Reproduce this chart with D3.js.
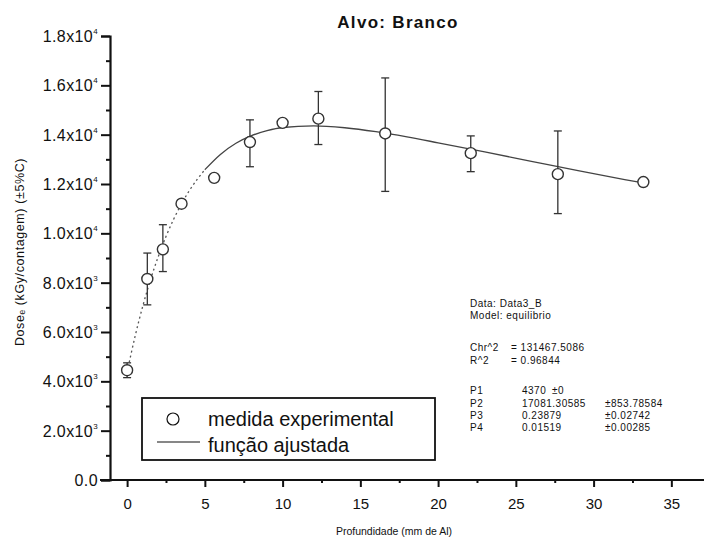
<!DOCTYPE html>
<html><head><meta charset="utf-8">
<script src="https://cdn.jsdelivr.net/npm/d3@7"></script>
<style>
body{margin:0;background:#fff;}
text{font-family:"Liberation Sans",Arial,sans-serif;fill:#111;}
</style></head>
<body><svg id="c" width="704" height="540"></svg>
<script>
// measured points
const depth = [0, 1.3, 2.3, 3.5, 5.6, 7.9, 10.0, 12.3, 16.6, 22.1, 27.7, 33.2];
const dose  = [4450, 8150, 9350, 11200, 12250, 13700, 14480, 14650, 14050, 13250, 12400, 12080];
const errLo = [4150, 7100, 8450, 11050, 12150, 12700, 14380, 13600, 11700, 12500, 10800, 12000];
const errHi = [4750, 9200, 10350, 11350, 12350, 14600, 14580, 15750, 16300, 13950, 14150, 12160];
// fitted curve
const fitX = [0, 0.5, 1, 1.5, 2, 2.5, 3, 4, 5, 6, 7, 8, 9, 10, 12, 14, 16, 18, 20, 23, 26, 29, 32, 33.2];
const fitY = [4370, 5790, 7030, 8110, 9050, 9870, 10580, 11730, 12580, 13200, 13650, 13960, 14160, 14290, 14360, 14280, 14120, 13910, 13670, 13300, 12920, 12540, 12180, 12040];
const yTicks = [0, 2000, 4000, 6000, 8000, 10000, 12000, 14000, 16000, 18000];
const yTickLabels = [["0.0",""],["2.0x10","3"],["4.0x10","3"],["6.0x10","3"],["8.0x10","3"],["1.0x10","4"],["1.2x10","4"],["1.4x10","4"],["1.6x10","4"],["1.8x10","4"]];
const xTicks = [0, 5, 10, 15, 20, 25, 30, 35];
const fitInfo = [
  ["Data: Data3_B"], ["Model: equilibrio"],
  ["Chr^2", "= 131467.5086"], ["R^2", "= 0.96844"],
  ["P1", "4370", "±0"], ["P2", "17081.30585", "±853.78584"],
  ["P3", "0.23879", "±0.02742"], ["P4", "0.01519", "±0.00285"]
];

const svg = d3.select("#c");
const x = d3.scaleLinear().domain([-1.1, 37.1]).range([110, 704]);
const y = d3.scaleLinear().domain([0, 18000]).range([480, 36]);

// title
svg.append("text").attr("x", 398).attr("y", 28).attr("text-anchor", "middle")
  .style("font-size", "17px").style("font-weight", "bold").style("letter-spacing", "1.3px").text("Alvo: Branco");

// Y axis
const yAxis = svg.append("g").attr("transform", "translate(110,0)")
  .call(d3.axisLeft(y).tickValues(yTicks).tickSize(9).tickFormat(""));
yAxis.select(".domain").attr("stroke-width", 2.2).attr("stroke", "#111");
yAxis.selectAll(".tick line").attr("stroke-width", 2).attr("stroke", "#111");
svg.append("g").attr("transform", "translate(110,0)")
  .call(d3.axisLeft(y).tickValues(d3.range(1000, 18000, 2000)).tickSize(4).tickFormat(""))
  .call(g => g.select(".domain").remove())
  .selectAll(".tick line").attr("stroke-width", 2).attr("stroke", "#111");
const ylab = svg.append("g");
yTicks.forEach((v, i) => {
  const t = ylab.append("text").attr("x", 98).attr("y", y(v) + 6).attr("text-anchor", "end")
    .style("font-size", "16px").style("letter-spacing", "0.4px");
  t.append("tspan").text(yTickLabels[i][0]);
  if (yTickLabels[i][1]) t.append("tspan").attr("dy", -8).style("font-size", "8px").text(yTickLabels[i][1]);
});

// X axis
const xAxis = svg.append("g").attr("transform", "translate(0,480)")
  .call(d3.axisBottom(x).tickValues(xTicks).tickSize(7).tickPadding(11).tickFormat(d3.format("d")));
xAxis.select(".domain").attr("d", "M100,0H704").attr("stroke-width", 2.2).attr("stroke", "#111");
xAxis.selectAll(".tick line").attr("stroke-width", 2).attr("stroke", "#111");
xAxis.selectAll(".tick text").style("font-size", "15px").style("font-family", "Liberation Sans, Arial").attr("fill", "#111");
svg.append("g").attr("transform", "translate(0,480)")
  .call(d3.axisBottom(x).tickValues(d3.range(2.5, 37, 5)).tickSize(3).tickFormat(""))
  .call(g => g.select(".domain").remove())
  .selectAll(".tick line").attr("stroke-width", 2).attr("stroke", "#111");

// axis titles
svg.append("text").attr("x", 394).attr("y", 535).attr("text-anchor", "middle")
  .style("font-size", "10.5px").text("Profundidade (mm de Al)");
svg.append("text").attr("transform", "translate(24,252) rotate(-90)").attr("text-anchor", "middle")
  .style("font-size", "12.5px").style("letter-spacing", "0.6px").attr("fill", "#444").text("Dose\u2091 (kGy/contagem) (±5%C)");

// fitted curve
const fitData = fitX.map((d, i) => [d, fitY[i]]);
const line = d3.line().x(d => x(d[0])).y(d => y(d[1])).curve(d3.curveMonotoneX);
svg.append("path").datum(fitData.filter(d => d[0] <= 5)).attr("d", line)
  .attr("fill", "none").attr("stroke", "#555").attr("stroke-width", 1.3).attr("stroke-dasharray", "2,3");
svg.append("path").datum(fitData.filter(d => d[0] >= 5)).attr("d", line)
  .attr("fill", "none").attr("stroke", "#444").attr("stroke-width", 1.3);

// error bars
const eb = svg.append("g").attr("stroke", "#333").attr("stroke-width", 1.3);
depth.forEach((d, i) => {
  const cx = x(d);
  eb.append("line").attr("x1", cx).attr("x2", cx).attr("y1", y(errLo[i])).attr("y2", y(errHi[i]));
  eb.append("line").attr("x1", cx - 4).attr("x2", cx + 4).attr("y1", y(errLo[i])).attr("y2", y(errLo[i]));
  eb.append("line").attr("x1", cx - 4).attr("x2", cx + 4).attr("y1", y(errHi[i])).attr("y2", y(errHi[i]));
});
// points
svg.append("g").selectAll("circle").data(depth).join("circle")
  .attr("cx", d => x(d)).attr("cy", (d, i) => y(dose[i])).attr("r", 5.5)
  .attr("fill", "#fff").attr("stroke", "#333").attr("stroke-width", 1.4);

// legend
const lg = svg.append("g");
lg.append("rect").attr("x", 142).attr("y", 398).attr("width", 293).attr("height", 62)
  .attr("fill", "#fff").attr("stroke", "#111").attr("stroke-width", 1.8);
lg.append("circle").attr("cx", 173).attr("cy", 419).attr("r", 6).attr("fill", "#fff").attr("stroke", "#111").attr("stroke-width", 1.2);
lg.append("text").attr("x", 208).attr("y", 426).style("font-size", "20px").text("medida experimental");
lg.append("line").attr("x1", 157).attr("x2", 200).attr("y1", 442).attr("y2", 442).attr("stroke", "#111").attr("stroke-width", 1.2);
lg.append("text").attr("x", 208).attr("y", 452).style("font-size", "20px").text("função ajustada");

// fit info
const fi = svg.append("g").style("font-size", "10px").style("letter-spacing", "0.5px");
const rowY = [307, 319, 351, 364, 394, 407, 419, 431];
fitInfo.forEach((r, i) => {
  fi.append("text").attr("x", 470).attr("y", rowY[i]).text(r[0]);
  if (r.length === 1) return;
  fi.append("text").attr("x", r.length === 2 ? 511 : 522).attr("y", rowY[i]).text(r[1]);
  if (r[2]) fi.append("text").attr("x", r[2] === "±0" ? 552 : 605).attr("y", rowY[i]).text(r[2]);
});
</script></body></html>
